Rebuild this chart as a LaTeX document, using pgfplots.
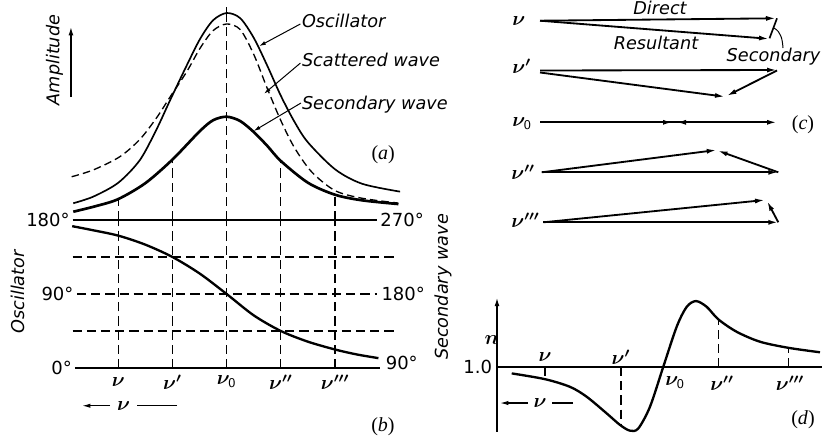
\documentclass[border=0pt]{standalone}
\usepackage{bm}
\usepackage{fontspec}
\setmainfont{DejaVu Sans}
\newfontfamily\serif{Liberation Serif}
\usepackage{pgfplots}
\pgfplotsset{compat=1.18}
\usetikzlibrary{arrows.meta}
\newcommand{\lab}{\fontsize{10.6}{12}\selectfont\itshape}
\newcommand{\dg}{\fontsize{10.8}{12}\selectfont}
\newcommand{\nl}{\fontsize{12}{14}\selectfont}
\newcommand{\pl}[1]{{\serif\fontsize{12}{14}\selectfont(\textit{#1})}}
\pgfplotsset{panel/.style={scale only axis, axis lines=none, clip=false, anchor=south west}}
\tikzset{vd/.style={line width=0.7pt, dash pattern=on 5.5pt off 3pt},
  vec/.style={line width=1.1pt, -{Latex[length=6pt,width=3pt]}},
  lead/.style={line width=0.6pt, -{Latex[length=4pt,width=2.4pt]}}}
\begin{document}
\begin{tikzpicture}
\path[use as bounding box] (0,0) rectangle (500.4pt,263.4pt);
% ---------------- (a) amplitude ----------------
\begin{axis}[panel, at={(44.94pt,131.4pt)}, width=195.12pt, height=131.65pt,
  xmin=-2.8, xmax=3.2, ymin=0, ymax=1.06]
\addplot[line width=1pt, smooth] coordinates {(-2.83,0.081) (-2.46,0.113) (-2.0,0.180) (-1.6,0.290) (-1.29,0.440) (-1.05,0.575) (-0.74,0.745) (-0.49,0.875) (-0.25,0.965) (0,1.0) (0.25,0.975) (0.5,0.88) (0.75,0.745) (1.0,0.60) (1.25,0.475) (1.5,0.375) (2.0,0.245) (2.5,0.175) (3.2,0.137)};
\addplot[line width=0.8pt, dash pattern=on 4.5pt off 2.5pt, smooth] coordinates {(-2.86,0.209) (-2.46,0.242) (-1.97,0.306) (-1.60,0.390) (-1.29,0.495) (-1.05,0.592) (-0.74,0.715) (-0.49,0.830) (-0.25,0.915) (0,0.947) (0.25,0.920) (0.5,0.800) (0.75,0.635) (1.0,0.480) (1.25,0.350) (1.57,0.232) (2.0,0.142) (2.5,0.105) (3.16,0.082)};
\addplot[line width=1.6pt, smooth] coordinates {(-2.83,0.040) (-2.4,0.068) (-2.0,0.101) (-1.5,0.178) (-1.0,0.292) (-0.5,0.428) (-0.25,0.482) (0,0.499) (0.25,0.478) (0.5,0.425) (0.75,0.358) (1.0,0.285) (1.5,0.180) (2.0,0.122) (2.5,0.095) (3.17,0.077)};
\addplot[vd] coordinates {(-2,0) (-2,0.101)};
\addplot[vd] coordinates {(-1,0) (-1,0.292)};
\addplot[vd] coordinates {(0,0) (0,1.0)};
\addplot[line width=0.7pt] coordinates {(0,1.0) (0,1.03)};
\addplot[vd] coordinates {(1,0) (1,0.285)};
\addplot[vd] coordinates {(2,0) (2,0.122)};
\node[rotate=90, font=\lab] at (axis cs:-3.177,0.773) {Amplitude};
\draw[line width=0.8pt, -{Latex[length=5pt,width=3pt]}] (axis cs:-2.873,0.594) -- (axis cs:-2.873,0.932);
\node[anchor=west, font=\lab, inner sep=0pt] at (axis cs:1.384,0.961) {Oscillator};
\node[anchor=west, font=\lab, inner sep=0pt] at (axis cs:1.384,0.773) {Scattered wave};
\node[anchor=west, font=\lab, inner sep=0pt] at (axis cs:1.384,0.555) {Secondary wave};
\draw[lead] (axis cs:1.36,0.947) -- (axis cs:0.60,0.840);
\draw[lead] (axis cs:1.36,0.758) -- (axis cs:0.69,0.610);
\draw[lead] (axis cs:1.37,0.565) -- (axis cs:0.50,0.430);
\node at (axis cs:2.889,0.314) {\pl{a}};
\end{axis}
% ---------------- (b) phase ----------------
\begin{axis}[panel, at={(44.94pt,42.6pt)}, width=195.12pt, height=88.8pt,
  xmin=-2.8, xmax=3.2, ymin=0, ymax=180]
\addplot[line width=0.8pt] coordinates {(-2.84,180) (2.78,180)};
\addplot[line width=0.8pt] coordinates {(-2.80,0) (2.83,0)};
\addplot[vd] coordinates {(-2.84,135) (3.16,135)};
\addplot[vd] coordinates {(-2.76,90) (2.78,90)};
\addplot[vd] coordinates {(-2.84,45) (3.16,45)};
\addplot[vd] coordinates {(-2,0) (-2,180)};
\addplot[vd] coordinates {(-1,0) (-1,180)};
\addplot[vd] coordinates {(0,0) (0,180)};
\addplot[vd] coordinates {(1,0) (1,180)};
\addplot[vd] coordinates {(2,0) (2,180)};
\addplot[line width=1.4pt, smooth] coordinates {(-2.85,172.5) (-2.5,168) (-2,161) (-1.5,150) (-1,135) (-0.5,115) (0,90) (0.5,64) (1,45) (1.5,32) (2,22.5) (2.4,16.5) (2.8,12)};
\node[anchor=east, font=\dg, inner sep=1pt] at (axis cs:-2.86,180) {180°};
\node[anchor=east, font=\dg, inner sep=1pt] at (axis cs:-2.79,90) {90°};
\node[anchor=east, font=\dg, inner sep=1pt] at (axis cs:-2.82,0) {0°};
\node[anchor=west, font=\dg, inner sep=1pt] at (axis cs:2.80,180) {270°};
\node[anchor=west, font=\dg, inner sep=1pt] at (axis cs:2.82,90) {180°};
\node[anchor=west, font=\dg, inner sep=1pt] at (axis cs:2.90,6) {90°};
\node[font=\nl] at (axis cs:-2,-17) {$\bm{\nu}$};
\node[font=\nl] at (axis cs:-1,-17) {$\bm{\nu'}$};
\node[font=\nl] at (axis cs:0,-17) {$\bm{\nu}_{\mathsf{0}}$};
\node[font=\nl] at (axis cs:1,-17) {$\bm{\nu''}$};
\node[font=\nl] at (axis cs:2,-17) {$\bm{\nu'''}$};
\draw[line width=0.7pt] (axis cs:-0.916,-45.9) -- (axis cs:-1.66,-45.9);
\draw[line width=0.7pt, -{Latex[length=5pt,width=2.6pt]}] (axis cs:-2.15,-45.9) -- (axis cs:-2.668,-45.9);
\node[font=\nl] at (axis cs:-1.90,-45.9) {$\bm{\nu}$};
\node at (axis cs:2.884,-71.8) {\pl{b}};
\node[rotate=90, font=\lab] at (axis cs:-3.86,92.5) {Oscillator};
\node[rotate=90, font=\lab] at (axis cs:3.99,98.5) {Secondary wave};
\end{axis}
% ---------------- (c) vectors ----------------
\begin{axis}[panel, at={(300pt,119.4pt)}, width=200.4pt, height=144pt,
  xmin=500, xmax=834, ymin=-240, ymax=0]
% nu
\addplot[vec] coordinates {(540,-20.7) (776,-18.3)};
\addplot[vec] coordinates {(540,-20.7) (769,-38.8)};
\addplot[line width=1pt] coordinates {(777,-18.3) (769.5,-38.3)};
% nu'
\addplot[vec] coordinates {(540,-70.5) (777,-70)};
\addplot[vec] coordinates {(540,-72.5) (725,-96.7)};
\addplot[vec] coordinates {(777,-70.5) (726.5,-96)};
% nu0
\addplot[vec] coordinates {(540,-122.3) (777,-122.3)};
\addplot[vec] coordinates {(540,-122.3) (673,-122.3)};
\addplot[vec] coordinates {(740,-122.3) (676,-122.3)};
% nu''
\addplot[vec] coordinates {(541.7,-172.3) (778.3,-172.3)};
\addplot[vec] coordinates {(541.7,-172.3) (716.7,-150)};
\addplot[vec] coordinates {(778.3,-172.3) (717.5,-150.5)};
% nu'''
\addplot[vec] coordinates {(543.3,-222.3) (778.3,-222.3)};
\addplot[vec] coordinates {(543.3,-222.3) (765,-200)};
\addplot[vec] coordinates {(778.3,-222.3) (767,-201)};
\node[anchor=west, font=\nl, inner sep=0pt] at (axis cs:512,-20.7) {$\bm{\nu}$};
\node[anchor=west, font=\nl, inner sep=0pt] at (axis cs:512,-66) {$\bm{\nu'}$};
\node[anchor=west, font=\nl, inner sep=0pt] at (axis cs:512,-124) {$\bm{\nu}_{\mathsf{0}}$};
\node[anchor=west, font=\nl, inner sep=0pt] at (axis cs:511,-172) {$\bm{\nu''}$};
\node[anchor=west, font=\nl, inner sep=0pt] at (axis cs:511,-220) {$\bm{\nu'''}$};
\node[font=\lab, inner sep=1pt] at (axis cs:660,-7.5) {Direct};
\node[font=\lab] at (axis cs:656,-42.5) {Resultant};
\node[font=\lab] at (axis cs:773.5,-57) {Secondary};
\draw[line width=0.6pt] (axis cs:783,-48) to[out=95,in=-30] (axis cs:774,-28);
\node at (axis cs:803,-125) {\pl{c}};
\end{axis}
% ---------------- (d) refractive index ----------------
\begin{axis}[panel, at={(298.2pt,2.88pt)}, width=195pt, height=82.56pt,
  xmin=0, xmax=325, ymin=0.79, ymax=1.22]
\addplot[line width=0.8pt, -{Latex[length=5pt,width=3pt]}] coordinates {(0,0.797) (0,1.216)};
\addplot[line width=0.8pt] coordinates {(0,1) (325,1)};
\addplot[line width=1.4pt, smooth] coordinates {(14.7,0.980) (48,0.962) (73,0.938) (89.7,0.907) (109.7,0.855) (123,0.819) (133,0.801) (141.3,0.808) (153,0.876) (166.3,1.001) (179.7,1.126) (189.7,1.188) (199,1.206) (209.7,1.188) (221.3,1.149) (239.7,1.110) (263,1.079) (291.3,1.060) (323,1.046)};
\addplot[vd] coordinates {(48,1) (48,0.962)};
\addplot[vd] coordinates {(124,1) (124,0.817)};
\addplot[vd] coordinates {(221.3,1) (221.3,1.149)};
\addplot[vd] coordinates {(291.3,1) (291.3,1.060)};
\node[anchor=east, font=\dg, inner sep=1pt] at (axis cs:-3,1) {1.0};
\node[font=\nl] at (axis cs:-5.3,1.084) {$\bm{n}$};
\node[font=\nl] at (axis cs:48,1.031) {$\bm{\nu}$};
\node[font=\nl] at (axis cs:124,1.031) {$\bm{\nu'}$};
\node[font=\nl] at (axis cs:178,0.95) {$\bm{\nu}_{\mathsf{0}}$};
\node[font=\nl] at (axis cs:225,0.95) {$\bm{\nu''}$};
\node[font=\nl] at (axis cs:293,0.95) {$\bm{\nu'''}$};
\draw[line width=0.7pt] (axis cs:76,0.8875) -- (axis cs:55,0.8875);
\draw[line width=0.7pt, -{Latex[length=5pt,width=2.6pt]}] (axis cs:31,0.8875) -- (axis cs:3,0.8875);
\node[font=\nl] at (axis cs:43,0.8875) {$\bm{\nu}$};
\node at (axis cs:306,0.834) {\pl{d}};
\end{axis}
\end{tikzpicture}
\end{document}
